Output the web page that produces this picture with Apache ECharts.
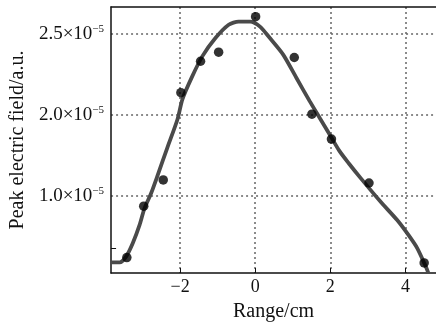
<!DOCTYPE html>
<html>
<head>
<meta charset="utf-8">
<script src="https://cdn.jsdelivr.net/npm/echarts@6/dist/echarts.min.js"></script>
<style>
  html, body { margin: 0; padding: 0; background: #fff; }
  #chart { width: 436px; height: 327px; }
</style>
</head>
<body>
<div id="chart"></div>
<script>
const curveX = [-3.84, -3.61, -3.435, -3.26, -3.08, -2.95, -2.776, -2.6, -2.34, -2.07, -1.94, -1.675, -1.41, -1.06, -0.707, -0.443, -0.137, 0.127, 0.39, 0.744, 1.095, 1.446, 1.71, 1.974, 2.237, 2.5, 2.82, 3.34, 3.78, 4.08, 4.31, 4.52, 4.61];
const curveY = [1.091, 1.091, 1.128, 1.21, 1.322, 1.424, 1.516, 1.628, 1.80, 1.975, 2.098, 2.241, 2.363, 2.476, 2.558, 2.578, 2.578, 2.547, 2.476, 2.374, 2.231, 2.088, 1.986, 1.884, 1.781, 1.70, 1.608, 1.465, 1.352, 1.26, 1.18, 1.077, 1.026];

// measured points
const pointX = [-3.42, -2.97, -2.45, -1.98, -1.456, -0.975, 0.01, 1.04, 1.51, 2.03, 3.03, 4.5];
const pointY = [1.12, 1.438, 1.60, 2.139, 2.333, 2.389, 2.608, 2.356, 2.006, 1.852, 1.581, 1.087];

// tick labels
const xTicks = [-2, 0, 2, 4];
const yTickValues = [1.5, 2.0, 2.5];
const yTickLabels = ['1.0', '2.0', '2.5'];
const yExtraTick = [1.18];

const serif = 'Liberation Serif';
const gridStyle = { color: '#666', type: [2, 3], width: 1.5 };
const myChart = echarts.init(document.getElementById('chart'));

const option = {
  animation: false,
  grid: { left: 108, top: 7, right: 0, bottom: 52 },
  xAxis: [
    {
      type: 'value',
      min: -3.84,
      max: 4.815,
      name: 'Range/cm',
      nameLocation: 'middle',
      nameGap: 29,
      nameTextStyle: { fontFamily: serif, fontSize: 20, color: '#111' },
      axisLine: { onZero: false, lineStyle: { color: '#111', width: 1.5 } },
      axisTick: { show: true, inside: true, length: 5, customValues: xTicks, lineStyle: { color: '#111' } },
      axisLabel: {
        customValues: xTicks,
        margin: 5,
        fontFamily: serif,
        fontSize: 18,
        color: '#111',
        formatter: v => (v < 0 ? '\u2212' + Math.abs(v) : String(v))
      },
      splitLine: { show: true, lineStyle: gridStyle }
    },
    {
      type: 'value',
      position: 'top',
      min: -3.84,
      max: 4.815,
      axisLine: { show: true, onZero: false, lineStyle: { color: '#111', width: 1.5 } },
      axisTick: { show: false },
      axisLabel: { show: false },
      splitLine: { show: false }
    }
  ],
  yAxis: [
    {
      type: 'value',
      min: 1.025,
      max: 2.668,
      name: 'Peak electric field/a.u.',
      nameLocation: 'middle',
      nameGap: 82,
      nameTextStyle: { fontFamily: serif, fontSize: 20, color: '#111' },
      axisLine: { show: true, onZero: false, lineStyle: { color: '#111', width: 1.5 } },
      axisTick: { show: false, customValues: yTickValues },
      axisLabel: {
        customValues: yTickValues,
        margin: 7,
        formatter: v => {
          const i = yTickValues.indexOf(v);
          return '{a|' + yTickLabels[i] + '\u00d710}{b|\u22125}';
        },
        rich: {
          a: { fontFamily: serif, fontSize: 19, color: '#111' },
          b: { fontFamily: serif, fontSize: 11, color: '#111', padding: [0, 0, 10, 0] }
        }
      },
      splitLine: { show: true, lineStyle: gridStyle }
    },
    {
      // short unlabeled tick near the bottom of the left axis
      type: 'value',
      position: 'left',
      min: 1.025,
      max: 2.668,
      axisLine: { show: false, onZero: false },
      axisTick: { show: true, inside: true, length: 5, customValues: yExtraTick, lineStyle: { color: '#111' } },
      axisLabel: { show: false },
      splitLine: { show: false }
    }
  ],
  series: [
    {
      name: 'fit',
      type: 'line',
      data: curveX.map((x, i) => [x, curveY[i]]),
      smooth: 0.25,
      showSymbol: false,
      clip: true,
      lineStyle: { color: '#4a4a4a', width: 3.8 },
      z: 2
    },
    {
      name: 'measured',
      type: 'scatter',
      data: pointX.map((x, i) => [x, pointY[i]]),
      symbolSize: 9.5,
      itemStyle: { color: '#000' },
      z: 3
    }
  ]
};
myChart.setOption(option);
</script>
</body>
</html>
